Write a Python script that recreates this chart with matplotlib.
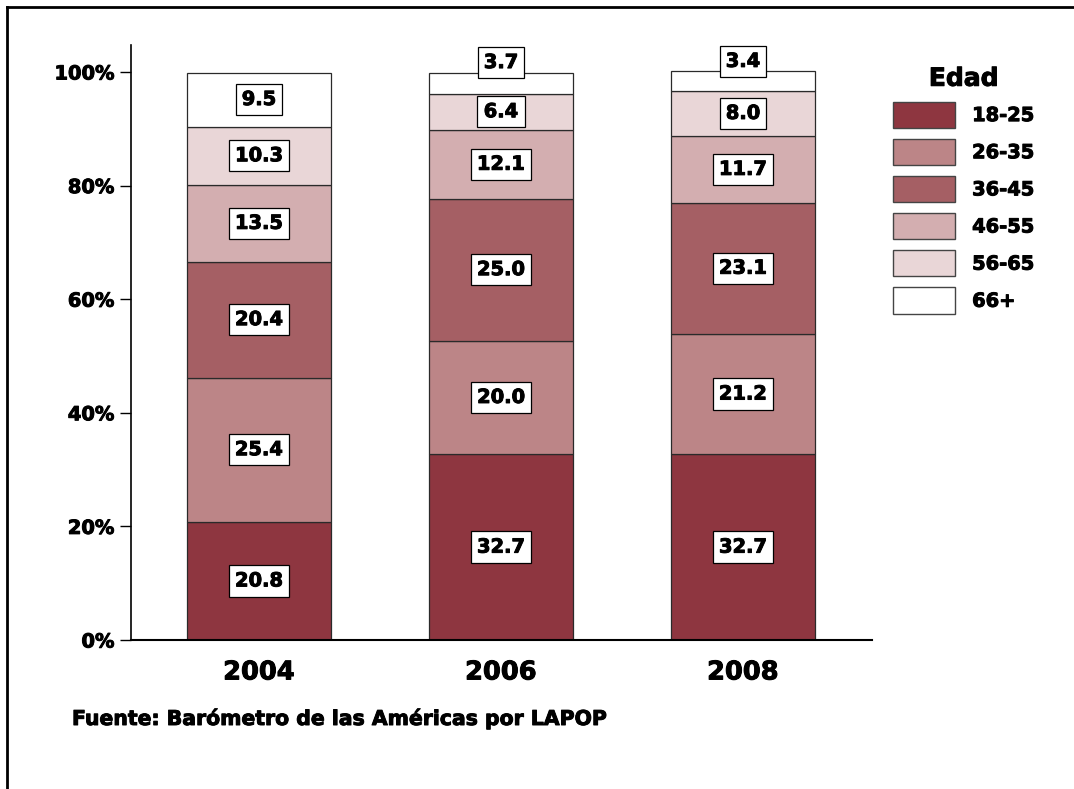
import matplotlib
matplotlib.use("Agg")
import matplotlib.pyplot as plt
from matplotlib.lines import Line2D
from matplotlib.patches import Patch
import matplotlib.patheffects as pe
import numpy as np

years = ["2004", "2006", "2008"]
groups = ["18-25", "26-35", "36-45", "46-55", "56-65", "66+"]
v_18_25 = [20.8, 32.7, 32.7]
v_26_35 = [25.4, 20.0, 21.2]
v_36_45 = [20.4, 25.0, 23.1]
v_46_55 = [13.5, 12.1, 11.7]
v_56_65 = [10.3, 6.4, 8.0]
v_66 = [9.5, 3.7, 3.4]
series = [v_18_25, v_26_35, v_36_45, v_46_55, v_56_65, v_66]
colors = ["#8E3640", "#BC8587", "#A55F64", "#D3AEB0", "#E9D6D7", "#FFFFFF"]
yticks = [0, 20, 40, 60, 80, 100]
ytick_labels = ["0%", "20%", "40%", "60%", "80%", "100%"]
source = "Fuente: Barómetro de las Américas por LAPOP"

plt.rcParams['font.family'] = ['DejaVu Sans']
plt.rcParams['font.weight'] = 'bold'

heavy = [pe.withStroke(linewidth=0.7, foreground="black")]

fig = plt.figure(figsize=(10.74, 7.89), dpi=100)
ax = fig.add_axes([131/1074, 1-640/789, 741/1074, 595/789])

x = np.arange(len(years))
width = 0.595
bottom = np.zeros(len(years))
for vals, col, name in zip(series, colors, groups):
    vals = np.array(vals)
    ax.bar(x, vals, width, bottom=bottom, color=col, edgecolor="#2a2a2a",
           linewidth=0.9, label=name, zorder=2)
    for xi, b, v in zip(x, bottom, vals):
        box = dict(boxstyle="square,pad=0.32", fc="white", ec="black", lw=0.9)
        if v < 5:
            ax.annotate(f"{v:.1f}", (xi, b + v), xytext=(0, 7.2), textcoords="offset points",
                        ha="center", va="center", fontsize=14, fontweight="bold",
                        bbox=box, zorder=5, path_effects=heavy)
        else:
            ax.text(xi, b + v/2, f"{v:.1f}", ha="center", va="center", fontsize=14,
                    fontweight="bold", bbox=box, zorder=5, path_effects=heavy)
    bottom = bottom + vals

ax.set_xlim(-0.529, 2.533)
ax.set_ylim(0, 104.75)
ax.set_yticks(yticks)
ax.set_yticklabels(ytick_labels, fontsize=14, fontweight="bold")
ax.set_xticks(x)
ax.set_xticklabels(years, fontsize=18.5, fontweight="bold")
for t in ax.get_xticklabels() + ax.get_yticklabels():
    t.set_path_effects(heavy)
ax.tick_params(axis="y", direction="out", length=8, width=1, pad=4)
ax.tick_params(axis="x", length=0, pad=14)
for s in ["top", "right"]:
    ax.spines[s].set_visible(False)
ax.spines["left"].set_linewidth(1.2)
ax.spines["bottom"].set_linewidth(1.5)

handles = [Patch(facecolor=c, edgecolor="#444444", linewidth=1.0) for c in colors]
leg = fig.legend(handles, groups, loc="upper left", bbox_to_anchor=(885/1074, 1-59/789),
                 frameon=False, fontsize=14, handlelength=3.2, handleheight=1.7,
                 handletextpad=0.88, labelspacing=0.56, title="Edad",
                 title_fontproperties={"size": 18, "weight": "bold"}, borderaxespad=0)
for t in leg.get_texts():
    t.set_fontweight("bold")
    t.set_path_effects(heavy)
leg.get_title().set_path_effects(heavy)

fig.text(72/1074, 1-719/789, source, fontsize=14.7, fontweight="bold", ha="left", va="center",
         path_effects=heavy)

fig.add_artist(Line2D([7/1074, 1], [1-7/789, 1-7/789], color="black", lw=2, transform=fig.transFigure))
fig.add_artist(Line2D([7/1074, 7/1074], [0, 1-7/789], color="black", lw=2, transform=fig.transFigure))

fig.savefig("out.png", dpi=100)
